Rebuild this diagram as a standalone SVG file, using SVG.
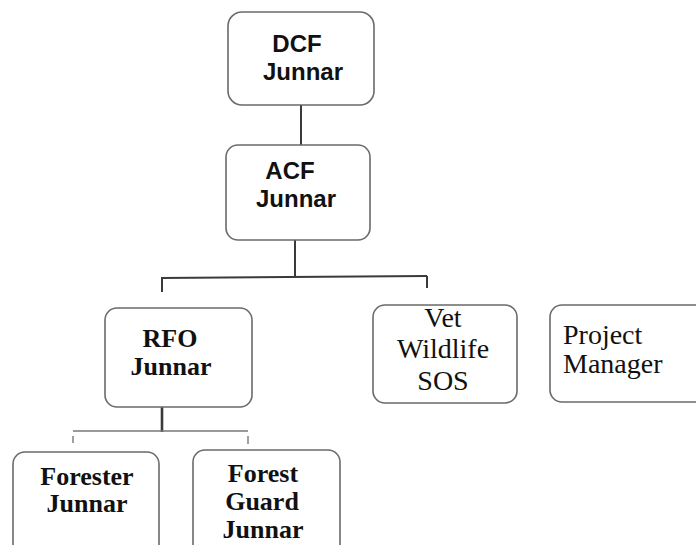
<svg xmlns="http://www.w3.org/2000/svg" width="696" height="545" viewBox="0 0 696 545">
<style>
.box{fill:#ffffff;stroke:#6a6a6a;stroke-width:1.6}
.conn{stroke:#3a3a3a;stroke-width:2;fill:none}
.thin{stroke:#777;stroke-width:1.4;fill:none}
.sans{font-family:"Liberation Sans",Arial,sans-serif;font-size:24px;font-weight:bold;fill:#111;text-anchor:middle}
.serif{font-family:"Liberation Serif","Times New Roman",serif;font-size:28px;fill:#111;text-anchor:middle}
.b{font-weight:bold;font-size:26px}
</style>
<rect width="696" height="545" fill="#ffffff"/>
<g id="connectors">
<line class="conn" x1="301" y1="105" x2="301" y2="145"/>
<line class="conn" x1="295" y1="240" x2="295" y2="277"/>
<line class="conn" x1="162" y1="278" x2="427" y2="276"/>
<line class="conn" x1="162" y1="277" x2="162" y2="292"/>
<line class="conn" x1="427" y1="276" x2="427" y2="288"/>
<line class="conn" x1="162" y1="407" x2="162" y2="432" style="stroke-width:2.6"/>
<line class="thin" x1="73" y1="431" x2="248" y2="431"/>
<line class="thin" x1="73" y1="436" x2="73" y2="443"/>
<line class="thin" x1="248" y1="436" x2="248" y2="444"/>
</g>
<g id="dcf">
<rect class="box" x="228" y="12" width="146" height="93" rx="14"/>
<text class="sans" x="297" y="52">DCF</text>
<text class="sans" x="303" y="80">Junnar</text>
</g>
<g id="acf">
<rect class="box" x="226" y="145" width="144" height="95" rx="12"/>
<text class="sans" x="290" y="179">ACF</text>
<text class="sans" x="296" y="207">Junnar</text>
</g>
<g id="rfo">
<rect class="box" x="105" y="308" width="147" height="99" rx="12"/>
<text class="serif b" x="170" y="347">RFO</text>
<text class="serif b" x="171" y="375">Junnar</text>
</g>
<g id="vet">
<rect class="box" x="373" y="305" width="144" height="98" rx="12"/>
<text class="serif" x="443" y="327">Vet</text>
<text class="serif" x="443" y="358">Wildlife</text>
<text class="serif" x="443" y="390">SOS</text>
</g>
<g id="project">
<rect class="box" x="550" y="305" width="170" height="97" rx="12"/>
<text class="serif" x="563" y="344" style="text-anchor:start">Project</text>
<text class="serif" x="563" y="373" style="text-anchor:start">Manager</text>
</g>
<g id="forester">
<rect class="box" x="13" y="452" width="146" height="120" rx="12"/>
<text class="serif b" x="87" y="485">Forester</text>
<text class="serif b" x="87" y="512">Junnar</text>
</g>
<g id="forestguard">
<rect class="box" x="193" y="450" width="147" height="120" rx="12"/>
<text class="serif b" x="263" y="482">Forest</text>
<text class="serif b" x="262" y="510">Guard</text>
<text class="serif b" x="263" y="538">Junnar</text>
</g>
</svg>
